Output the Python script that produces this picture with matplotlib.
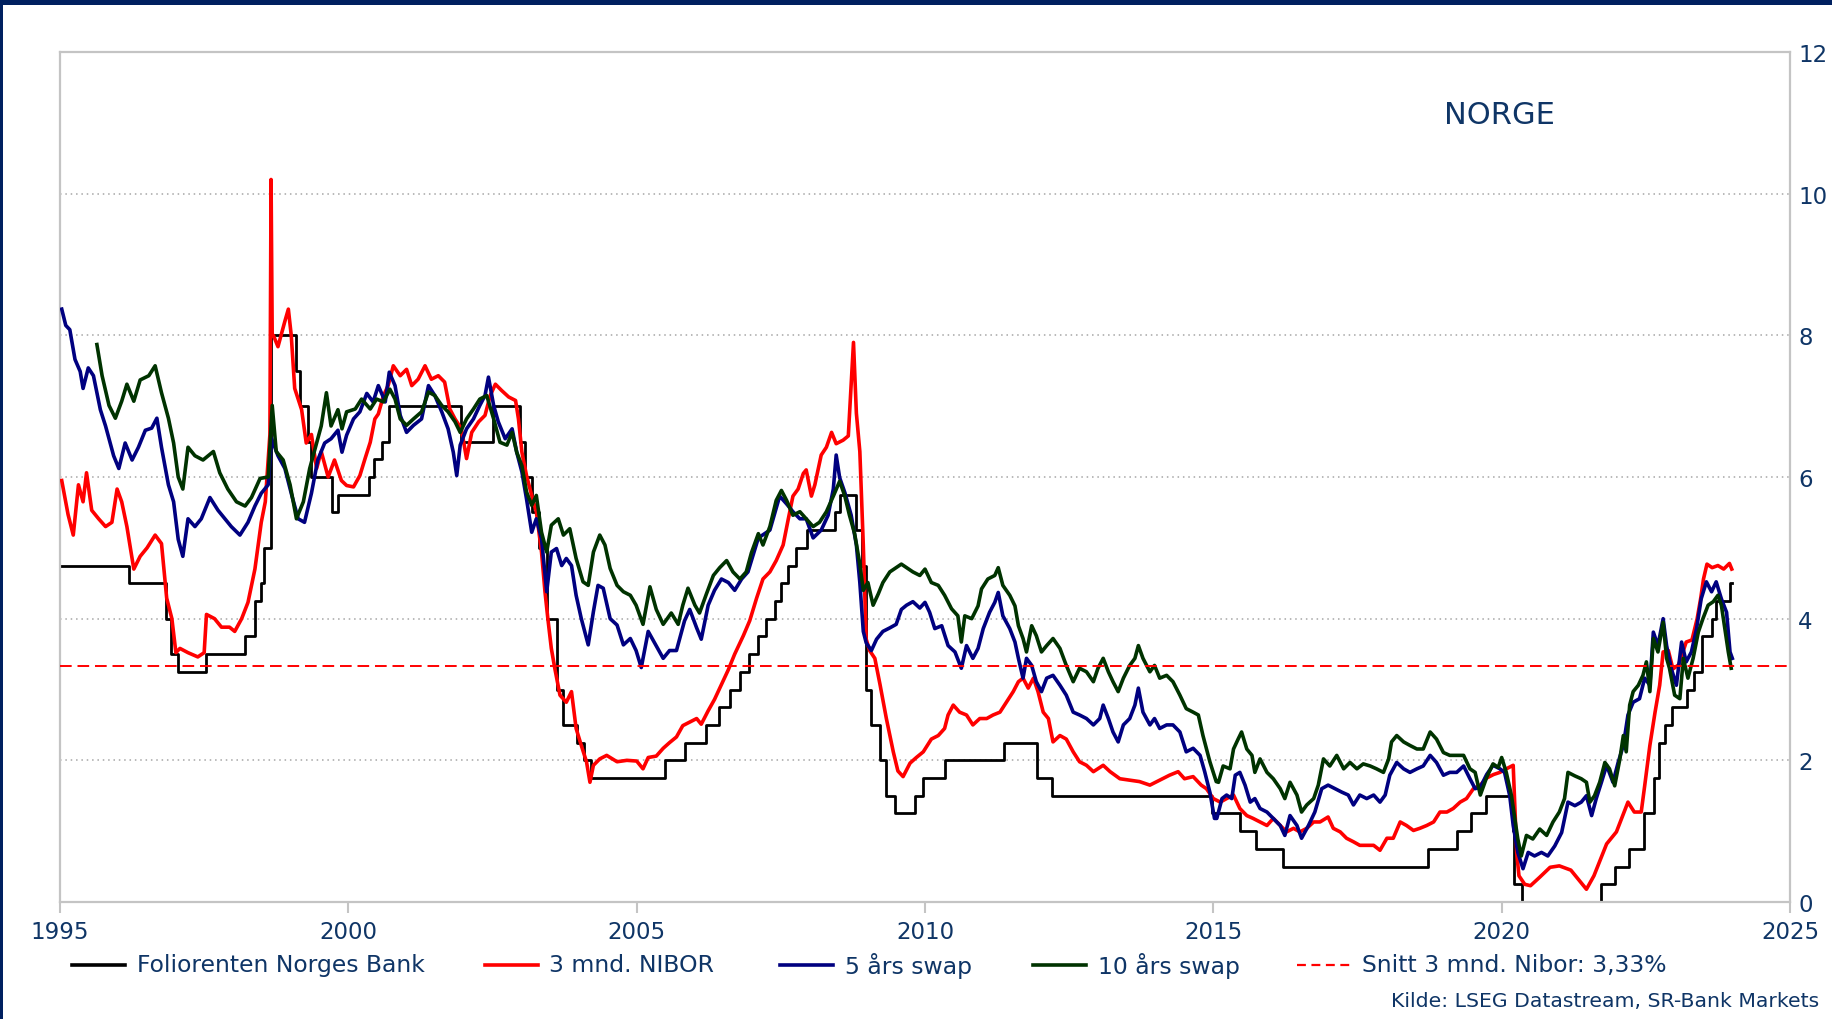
import matplotlib.pyplot as plt
from matplotlib.lines import Line2D
from matplotlib.patches import Rectangle

# Foliorenten Norges Bank (step changes)
policy_t = [1995.00, 1996.20, 1996.83, 1996.93, 1997.04, 1997.54, 1998.21, 1998.38, 1998.48, 1998.54,
            1998.66, 1999.09, 1999.16, 1999.30, 1999.36, 1999.72, 1999.82, 2000.35, 2000.45, 2000.58,
            2000.70, 2001.95, 2002.51, 2002.97, 2003.06, 2003.19, 2003.30, 2003.45, 2003.62, 2003.72,
            2003.96, 2004.08, 2004.20, 2005.49, 2005.84, 2006.20, 2006.42, 2006.62, 2006.79, 2006.94,
            2007.11, 2007.25, 2007.40, 2007.51, 2007.63, 2007.76, 2007.95, 2008.44, 2008.53, 2008.81,
            2008.90, 2008.98, 2009.07, 2009.22, 2009.33, 2009.48, 2009.83, 2009.96, 2010.35, 2011.37,
            2011.95, 2012.21, 2014.97, 2015.46, 2015.74, 2016.20, 2018.73, 2019.23, 2019.47, 2019.72,
            2020.20, 2020.21, 2020.35, 2021.72, 2021.96, 2022.21, 2022.47, 2022.64, 2022.73, 2022.84,
            2022.96, 2023.22, 2023.34, 2023.47, 2023.64, 2023.72, 2023.96, 2023.99]
policy_v = [4.75, 4.50, 4.00, 3.50, 3.25, 3.50, 3.75, 4.25, 4.50, 5.00,
            8.00, 7.50, 7.00, 6.50, 6.00, 5.50, 5.75, 6.00, 6.25, 6.50,
            7.00, 6.50, 7.00, 6.50, 6.00, 5.50, 5.00, 4.00, 3.00, 2.50,
            2.25, 2.00, 1.75, 2.00, 2.25, 2.50, 2.75, 3.00, 3.25, 3.50,
            3.75, 4.00, 4.25, 4.50, 4.75, 5.00, 5.25, 5.50, 5.75, 5.25,
            4.75, 3.00, 2.50, 2.00, 1.50, 1.25, 1.50, 1.75, 2.00, 2.25,
            1.75, 1.50, 1.25, 1.00, 0.75, 0.50, 0.75, 1.00, 1.25, 1.50,
            1.00, 0.25, 0.00, 0.25, 0.50, 0.75, 1.25, 1.75, 2.25, 2.50,
            2.75, 3.00, 3.25, 3.75, 4.00, 4.25, 4.50, 4.50]

# 3 mnd. NIBOR
nibor_t = [1995.03, 1995.14, 1995.23, 1995.32, 1995.40, 1995.46, 1995.55, 1995.67, 1995.79, 1995.90,
           1995.99, 1996.07, 1996.16, 1996.28, 1996.39, 1996.51, 1996.65, 1996.76, 1996.85, 1996.94,
           1997.01, 1997.08, 1997.22, 1997.39, 1997.50, 1997.54, 1997.68, 1997.80, 1997.94, 1998.03,
           1998.15, 1998.26, 1998.38, 1998.49, 1998.56, 1998.64, 1998.66, 1998.68, 1998.70, 1998.78,
           1998.90, 1998.96, 1999.01, 1999.07, 1999.19, 1999.27, 1999.36, 1999.45, 1999.53, 1999.65,
           1999.76, 1999.88, 1999.97, 2000.09, 2000.20, 2000.29, 2000.38, 2000.46, 2000.52, 2000.61,
           2000.69, 2000.78, 2000.90, 2001.01, 2001.10, 2001.21, 2001.33, 2001.44, 2001.56, 2001.67,
           2001.76, 2001.85, 2001.96, 2002.05, 2002.14, 2002.26, 2002.37, 2002.46, 2002.55, 2002.66,
           2002.78, 2002.90, 2002.95, 2003.01, 2003.09, 2003.18, 2003.26, 2003.35, 2003.41, 2003.46,
           2003.52, 2003.58, 2003.67, 2003.78, 2003.87, 2003.95, 2004.04, 2004.13, 2004.19, 2004.25,
           2004.36, 2004.48, 2004.66, 2004.83, 2005.00, 2005.11, 2005.20, 2005.34, 2005.46, 2005.57,
           2005.69, 2005.80, 2005.92, 2006.04, 2006.12, 2006.24, 2006.35, 2006.47, 2006.59, 2006.70,
           2006.85, 2006.96, 2007.08, 2007.19, 2007.31, 2007.42, 2007.54, 2007.63, 2007.71, 2007.80,
           2007.89, 2007.94, 2008.03, 2008.09, 2008.20, 2008.29, 2008.38, 2008.46, 2008.58, 2008.67,
           2008.71, 2008.76, 2008.81, 2008.87, 2008.93, 2008.98, 2009.04, 2009.13, 2009.22, 2009.33,
           2009.45, 2009.53, 2009.62, 2009.74, 2009.85, 2009.97, 2010.11, 2010.23, 2010.34, 2010.40,
           2010.49, 2010.60, 2010.72, 2010.83, 2010.95, 2011.07, 2011.18, 2011.30, 2011.41, 2011.53,
           2011.62, 2011.70, 2011.79, 2011.88, 2011.96, 2012.05, 2012.14, 2012.22, 2012.34, 2012.45,
           2012.57, 2012.68, 2012.80, 2012.92, 2013.09, 2013.21, 2013.38, 2013.55, 2013.72, 2013.90,
           2014.07, 2014.24, 2014.39, 2014.50, 2014.65, 2014.79, 2014.88, 2015.00, 2015.12, 2015.23,
           2015.35, 2015.46, 2015.58, 2015.69, 2015.81, 2015.93, 2016.04, 2016.16, 2016.27, 2016.39,
           2016.50, 2016.62, 2016.74, 2016.85, 2016.99, 2017.08, 2017.20, 2017.31, 2017.43, 2017.54,
           2017.66, 2017.78, 2017.89, 2018.01, 2018.12, 2018.24, 2018.35, 2018.47, 2018.58, 2018.70,
           2018.82, 2018.93, 2019.05, 2019.16, 2019.28, 2019.39, 2019.51, 2019.63, 2019.74, 2019.86,
           2019.97, 2020.08, 2020.20, 2020.26, 2020.30, 2020.40, 2020.50, 2020.66, 2020.84, 2021.00,
           2021.20, 2021.35, 2021.47, 2021.60, 2021.82, 2021.99, 2022.19, 2022.30, 2022.42, 2022.48,
           2022.57, 2022.66, 2022.74, 2022.80, 2022.89, 2022.97, 2023.07, 2023.20, 2023.30, 2023.39,
           2023.45, 2023.50, 2023.56, 2023.65, 2023.75, 2023.85, 2023.95, 2023.99]
nibor_v = [5.95, 5.47, 5.18, 5.89, 5.65, 6.06, 5.53, 5.41, 5.30, 5.36,
           5.83, 5.65, 5.30, 4.70, 4.88, 5.00, 5.18, 5.06, 4.29, 4.00,
           3.52, 3.58, 3.52, 3.46, 3.52, 4.06, 4.00, 3.88, 3.88, 3.82,
           4.00, 4.23, 4.70, 5.36, 5.65, 6.60, 10.2, 8.00, 8.00, 7.84,
           8.20, 8.37, 8.00, 7.25, 6.95, 6.48, 6.60, 6.12, 6.36, 6.00,
           6.24, 5.95, 5.88, 5.86, 6.02, 6.26, 6.49, 6.82, 6.89, 7.15,
           7.29, 7.57, 7.43, 7.52, 7.29, 7.38, 7.57, 7.38, 7.43, 7.34,
           6.96, 6.82, 6.68, 6.26, 6.63, 6.78, 6.87, 7.15, 7.31, 7.22,
           7.13, 7.08, 6.82, 6.35, 6.02, 5.74, 5.51, 4.94, 4.38, 4.00,
           3.58, 3.30, 2.92, 2.82, 2.97, 2.45, 2.21, 1.98, 1.69, 1.93,
           2.02, 2.07, 1.98, 2.00, 1.99, 1.88, 2.04, 2.06, 2.17, 2.25,
           2.33, 2.49, 2.54, 2.59, 2.51, 2.70, 2.86, 3.07, 3.28, 3.50,
           3.76, 3.97, 4.29, 4.56, 4.66, 4.82, 5.04, 5.41, 5.73, 5.83,
           6.05, 6.10, 5.73, 5.89, 6.31, 6.42, 6.63, 6.47, 6.52, 6.58,
           7.16, 7.90, 6.90, 6.36, 5.04, 3.71, 3.55, 3.44, 3.07, 2.59,
           2.12, 1.85, 1.77, 1.96, 2.04, 2.12, 2.30, 2.35, 2.45, 2.64,
           2.78, 2.68, 2.64, 2.50, 2.59, 2.59, 2.64, 2.68, 2.82, 2.97,
           3.11, 3.16, 3.02, 3.16, 2.97, 2.68, 2.59, 2.26, 2.35, 2.30,
           2.12, 1.98, 1.93, 1.84, 1.93, 1.84, 1.74, 1.72, 1.70, 1.65,
           1.72, 1.79, 1.84, 1.74, 1.77, 1.65, 1.60, 1.46, 1.41, 1.46,
           1.51, 1.32, 1.22, 1.18, 1.13, 1.08, 1.18, 1.08, 0.99, 1.04,
           0.99, 1.04, 1.13, 1.13, 1.20, 1.04, 0.99, 0.90, 0.85, 0.80,
           0.80, 0.80, 0.73, 0.90, 0.90, 1.13, 1.08, 1.01, 1.04, 1.08,
           1.13, 1.27, 1.27, 1.32, 1.41, 1.46, 1.60, 1.65, 1.75, 1.80,
           1.83, 1.88, 1.93, 0.70, 0.37, 0.25, 0.23, 0.35, 0.49, 0.51,
           0.45, 0.30, 0.18, 0.37, 0.82, 0.99, 1.41, 1.27, 1.27, 1.64,
           2.21, 2.68, 3.06, 3.53, 3.55, 3.29, 3.35, 3.67, 3.70, 4.00,
           4.28, 4.56, 4.77, 4.72, 4.75, 4.70, 4.78, 4.70]

# 5 års swap
swap5_t = [1995.03, 1995.10, 1995.17, 1995.26, 1995.35, 1995.40, 1995.49, 1995.58, 1995.70, 1995.79,
           1995.93, 1996.02, 1996.13, 1996.25, 1996.36, 1996.48, 1996.59, 1996.68, 1996.76, 1996.88,
           1996.97, 1997.05, 1997.13, 1997.22, 1997.34, 1997.45, 1997.60, 1997.74, 1997.86, 1997.97,
           1998.12, 1998.26, 1998.38, 1998.49, 1998.61, 1998.67, 1998.78, 1998.90, 1999.01, 1999.13,
           1999.24, 1999.36, 1999.47, 1999.59, 1999.70, 1999.82, 1999.89, 1999.97, 2000.09, 2000.20,
           2000.32, 2000.43, 2000.52, 2000.64, 2000.71, 2000.81, 2000.90, 2001.01, 2001.13, 2001.27,
           2001.39, 2001.50, 2001.62, 2001.73, 2001.82, 2001.88, 2001.94, 2002.05, 2002.17, 2002.28,
           2002.37, 2002.43, 2002.52, 2002.60, 2002.72, 2002.84, 2002.92, 2003.01, 2003.09, 2003.18,
           2003.26, 2003.35, 2003.44, 2003.52, 2003.61, 2003.70, 2003.78, 2003.87, 2003.95, 2004.04,
           2004.16, 2004.25, 2004.33, 2004.42, 2004.54, 2004.66, 2004.77, 2004.89, 2004.99, 2005.08,
           2005.20, 2005.31, 2005.46, 2005.57, 2005.69, 2005.83, 2005.92, 2006.04, 2006.12, 2006.24,
           2006.35, 2006.47, 2006.59, 2006.70, 2006.82, 2006.93, 2007.11, 2007.31, 2007.48, 2007.60,
           2007.71, 2007.83, 2007.94, 2008.06, 2008.20, 2008.32, 2008.41, 2008.46, 2008.52, 2008.61,
           2008.72, 2008.81, 2008.87, 2008.93, 2008.98, 2009.07, 2009.16, 2009.27, 2009.39, 2009.50,
           2009.59, 2009.68, 2009.79, 2009.91, 2010.00, 2010.08, 2010.17, 2010.29, 2010.40, 2010.52,
           2010.63, 2010.72, 2010.83, 2010.92, 2011.01, 2011.12, 2011.21, 2011.27, 2011.35, 2011.47,
           2011.56, 2011.62, 2011.70, 2011.76, 2011.85, 2011.93, 2012.02, 2012.11, 2012.22, 2012.34,
           2012.45, 2012.57, 2012.68, 2012.80, 2012.92, 2013.03, 2013.09, 2013.18, 2013.26, 2013.35,
           2013.44, 2013.55, 2013.64, 2013.70, 2013.78, 2013.90, 2013.98, 2014.07, 2014.19, 2014.30,
           2014.42, 2014.53, 2014.65, 2014.77, 2014.85, 2014.94, 2015.02, 2015.06, 2015.15, 2015.23,
           2015.32, 2015.38, 2015.46, 2015.55, 2015.64, 2015.72, 2015.81, 2015.93, 2016.04, 2016.16,
           2016.24, 2016.33, 2016.45, 2016.53, 2016.65, 2016.76, 2016.88, 2016.99, 2017.11, 2017.23,
           2017.34, 2017.43, 2017.54, 2017.66, 2017.78, 2017.89, 2017.98, 2018.06, 2018.18, 2018.30,
           2018.41, 2018.53, 2018.64, 2018.76, 2018.87, 2018.99, 2019.10, 2019.22, 2019.34, 2019.45,
           2019.54, 2019.63, 2019.74, 2019.85, 2019.97, 2020.05, 2020.14, 2020.20, 2020.28, 2020.37,
           2020.46, 2020.57, 2020.69, 2020.80, 2020.92, 2021.04, 2021.15, 2021.27, 2021.38, 2021.47,
           2021.56, 2021.64, 2021.73, 2021.82, 2021.93, 2022.02, 2022.11, 2022.19, 2022.28, 2022.39,
           2022.48, 2022.57, 2022.63, 2022.71, 2022.80, 2022.86, 2022.94, 2023.03, 2023.12, 2023.20,
           2023.29, 2023.38, 2023.46, 2023.55, 2023.64, 2023.72, 2023.81, 2023.90, 2023.96, 2024.00]
swap5_v = [8.37, 8.14, 8.08, 7.66, 7.49, 7.25, 7.54, 7.43, 6.95, 6.72,
           6.30, 6.12, 6.48, 6.24, 6.42, 6.66, 6.69, 6.83, 6.42, 5.89,
           5.65, 5.12, 4.88, 5.41, 5.30, 5.41, 5.71, 5.53, 5.41, 5.30,
           5.18, 5.36, 5.59, 5.77, 5.89, 6.54, 6.30, 6.12, 5.77, 5.41,
           5.36, 5.77, 6.24, 6.48, 6.54, 6.66, 6.35, 6.59, 6.82, 6.92,
           7.18, 7.06, 7.29, 7.06, 7.48, 7.29, 6.87, 6.63, 6.73, 6.82,
           7.29, 7.15, 6.92, 6.68, 6.35, 6.02, 6.45, 6.68, 6.82, 7.01,
           7.15, 7.41, 7.01, 6.78, 6.54, 6.68, 6.35, 6.07, 5.69, 5.22,
           5.41, 5.13, 4.38, 4.94, 4.99, 4.75, 4.85, 4.75, 4.33, 4.00,
           3.63, 4.10, 4.47, 4.43, 4.00, 3.91, 3.63, 3.72, 3.55, 3.31,
           3.82, 3.66, 3.44, 3.55, 3.55, 3.97, 4.13, 3.87, 3.71, 4.19,
           4.40, 4.56, 4.51, 4.40, 4.56, 4.66, 5.14, 5.25, 5.73, 5.62,
           5.51, 5.41, 5.41, 5.14, 5.25, 5.46, 5.83, 6.31, 5.99, 5.78,
           5.46, 5.04, 4.51, 3.82, 3.66, 3.55, 3.71, 3.82, 3.87, 3.92,
           4.13, 4.19, 4.24, 4.15, 4.23, 4.09, 3.86, 3.90, 3.62, 3.53,
           3.30, 3.62, 3.44, 3.58, 3.86, 4.09, 4.23, 4.37, 4.04, 3.86,
           3.67, 3.44, 3.16, 3.44, 3.34, 3.11, 2.97, 3.16, 3.20, 3.06,
           2.92, 2.68, 2.64, 2.59, 2.50, 2.59, 2.78, 2.59, 2.40, 2.26,
           2.50, 2.59, 2.78, 3.02, 2.68, 2.50, 2.59, 2.45, 2.50, 2.50,
           2.40, 2.12, 2.17, 2.07, 1.84, 1.55, 1.18, 1.18, 1.46, 1.51,
           1.46, 1.79, 1.83, 1.65, 1.41, 1.46, 1.32, 1.27, 1.18, 1.08,
           0.94, 1.22, 1.08, 0.90, 1.08, 1.27, 1.60, 1.65, 1.60, 1.55,
           1.51, 1.37, 1.51, 1.46, 1.51, 1.41, 1.51, 1.79, 1.97, 1.88,
           1.83, 1.88, 1.92, 2.07, 1.97, 1.79, 1.83, 1.83, 1.92, 1.74,
           1.60, 1.62, 1.80, 1.93, 1.88, 1.83, 1.50, 1.08, 0.70, 0.47,
           0.70, 0.65, 0.70, 0.65, 0.79, 0.98, 1.41, 1.36, 1.41, 1.50,
           1.22, 1.46, 1.69, 1.93, 1.69, 1.97, 2.21, 2.64, 2.82, 2.87,
           3.16, 3.06, 3.81, 3.62, 4.00, 3.62, 3.30, 3.06, 3.67, 3.39,
           3.53, 3.86, 4.28, 4.52, 4.38, 4.52, 4.28, 4.09, 3.53, 3.44]

# 10 års swap
swap10_t = [1995.64, 1995.73, 1995.85, 1995.96, 1996.07, 1996.16, 1996.28, 1996.39, 1996.54, 1996.65,
            1996.76, 1996.88, 1996.97, 1997.05, 1997.13, 1997.22, 1997.34, 1997.48, 1997.66, 1997.77,
            1997.91, 1998.06, 1998.21, 1998.32, 1998.47, 1998.61, 1998.68, 1998.75, 1998.87, 1998.99,
            1999.10, 1999.22, 1999.33, 1999.45, 1999.53, 1999.62, 1999.70, 1999.82, 1999.89, 1999.97,
            2000.12, 2000.23, 2000.38, 2000.49, 2000.61, 2000.72, 2000.81, 2000.90, 2001.01, 2001.13,
            2001.27, 2001.39, 2001.50, 2001.62, 2001.73, 2001.85, 2001.94, 2002.05, 2002.17, 2002.28,
            2002.40, 2002.52, 2002.63, 2002.75, 2002.84, 2002.92, 2003.01, 2003.09, 2003.18, 2003.26,
            2003.35, 2003.44, 2003.52, 2003.64, 2003.73, 2003.84, 2003.95, 2004.07, 2004.16, 2004.25,
            2004.36, 2004.45, 2004.54, 2004.66, 2004.77, 2004.89, 2004.99, 2005.11, 2005.23, 2005.34,
            2005.46, 2005.60, 2005.72, 2005.80, 2005.89, 2006.01, 2006.09, 2006.21, 2006.33, 2006.44,
            2006.56, 2006.67, 2006.79, 2006.90, 2006.99, 2007.11, 2007.19, 2007.31, 2007.42, 2007.51,
            2007.60, 2007.71, 2007.83, 2007.94, 2008.06, 2008.17, 2008.29, 2008.41, 2008.52, 2008.61,
            2008.69, 2008.78, 2008.87, 2008.93, 2009.01, 2009.10, 2009.19, 2009.27, 2009.39, 2009.50,
            2009.59, 2009.68, 2009.79, 2009.91, 2010.00, 2010.11, 2010.23, 2010.34, 2010.46, 2010.57,
            2010.63, 2010.69, 2010.81, 2010.92, 2010.98, 2011.09, 2011.21, 2011.27, 2011.35, 2011.47,
            2011.56, 2011.62, 2011.70, 2011.76, 2011.85, 2011.93, 2012.02, 2012.11, 2012.22, 2012.34,
            2012.45, 2012.57, 2012.68, 2012.80, 2012.92, 2013.00, 2013.09, 2013.18, 2013.26, 2013.35,
            2013.44, 2013.55, 2013.64, 2013.70, 2013.78, 2013.90, 2013.98, 2014.07, 2014.19, 2014.30,
            2014.42, 2014.53, 2014.65, 2014.74, 2014.82, 2014.94, 2015.05, 2015.09, 2015.17, 2015.29,
            2015.35, 2015.43, 2015.49, 2015.58, 2015.67, 2015.72, 2015.81, 2015.93, 2016.04, 2016.16,
            2016.24, 2016.33, 2016.45, 2016.53, 2016.62, 2016.74, 2016.82, 2016.91, 2017.02, 2017.14,
            2017.26, 2017.37, 2017.49, 2017.60, 2017.72, 2017.83, 2017.95, 2018.04, 2018.09, 2018.18,
            2018.30, 2018.41, 2018.53, 2018.64, 2018.76, 2018.87, 2018.99, 2019.10, 2019.22, 2019.34,
            2019.45, 2019.54, 2019.63, 2019.74, 2019.85, 2019.94, 2020.00, 2020.08, 2020.17, 2020.23,
            2020.28, 2020.34, 2020.43, 2020.54, 2020.66, 2020.78, 2020.89, 2021.00, 2021.09, 2021.15,
            2021.27, 2021.38, 2021.47, 2021.53, 2021.61, 2021.70, 2021.79, 2021.87, 2021.96, 2022.05,
            2022.11, 2022.16, 2022.22, 2022.28, 2022.37, 2022.45, 2022.51, 2022.57, 2022.63, 2022.71,
            2022.80, 2022.86, 2022.91, 2023.00, 2023.09, 2023.15, 2023.23, 2023.32, 2023.41, 2023.49,
            2023.58, 2023.67, 2023.75, 2023.81, 2023.87, 2023.93, 2023.98]
swap10_v = [7.87, 7.43, 7.01, 6.83, 7.07, 7.31, 7.07, 7.37, 7.43, 7.57,
            7.19, 6.83, 6.48, 6.00, 5.83, 6.42, 6.30, 6.24, 6.36, 6.06,
            5.83, 5.65, 5.59, 5.71, 5.98, 6.00, 7.01, 6.36, 6.24, 5.89,
            5.41, 5.65, 6.12, 6.48, 6.72, 7.19, 6.72, 6.95, 6.68, 6.92,
            6.96, 7.10, 6.96, 7.10, 7.06, 7.24, 7.10, 6.82, 6.73, 6.82,
            6.92, 7.20, 7.15, 7.01, 6.92, 6.78, 6.63, 6.82, 6.96, 7.10,
            7.15, 6.82, 6.49, 6.45, 6.63, 6.35, 6.16, 5.79, 5.60, 5.74,
            5.22, 4.94, 5.32, 5.41, 5.18, 5.27, 4.85, 4.52, 4.47, 4.94,
            5.18, 5.04, 4.71, 4.47, 4.38, 4.33, 4.19, 3.92, 4.45, 4.13,
            3.92, 4.08, 3.92, 4.19, 4.43, 4.19, 4.08, 4.35, 4.61, 4.72,
            4.82, 4.66, 4.56, 4.66, 4.93, 5.20, 5.04, 5.30, 5.67, 5.81,
            5.67, 5.46, 5.51, 5.41, 5.30, 5.36, 5.51, 5.73, 5.94, 5.73,
            5.46, 5.20, 4.77, 4.40, 4.51, 4.19, 4.35, 4.51, 4.66, 4.72,
            4.77, 4.72, 4.66, 4.61, 4.70, 4.51, 4.47, 4.33, 4.14, 4.04,
            3.67, 4.04, 4.00, 4.18, 4.42, 4.56, 4.61, 4.72, 4.47, 4.33,
            4.18, 3.90, 3.72, 3.53, 3.90, 3.76, 3.53, 3.62, 3.72, 3.58,
            3.34, 3.11, 3.30, 3.25, 3.11, 3.30, 3.44, 3.25, 3.11, 2.97,
            3.16, 3.34, 3.44, 3.62, 3.44, 3.25, 3.34, 3.16, 3.20, 3.11,
            2.92, 2.73, 2.68, 2.64, 2.35, 1.98, 1.70, 1.69, 1.92, 1.88,
            2.16, 2.30, 2.40, 2.16, 2.07, 1.83, 2.02, 1.83, 1.74, 1.60,
            1.46, 1.69, 1.51, 1.27, 1.37, 1.46, 1.65, 2.02, 1.92, 2.07,
            1.88, 1.97, 1.88, 1.95, 1.92, 1.88, 1.83, 2.02, 2.26, 2.35,
            2.26, 2.21, 2.16, 2.16, 2.40, 2.30, 2.11, 2.07, 2.07, 2.07,
            1.88, 1.83, 1.51, 1.76, 1.95, 1.90, 2.04, 1.83, 1.50, 1.17,
            0.89, 0.65, 0.94, 0.89, 1.03, 0.94, 1.13, 1.27, 1.46, 1.83,
            1.78, 1.74, 1.69, 1.41, 1.50, 1.69, 1.97, 1.88, 1.64, 2.02,
            2.35, 2.12, 2.78, 2.97, 3.06, 3.20, 3.39, 2.97, 3.72, 3.53,
            3.95, 3.44, 3.30, 2.92, 2.87, 3.44, 3.16, 3.44, 3.81, 4.00,
            4.19, 4.24, 4.33, 4.19, 3.86, 3.53, 3.30]

nibor_avg = 3.33
x_ticks = [1995, 2000, 2005, 2010, 2015, 2020, 2025]
y_ticks = [0, 2, 4, 6, 8, 10, 12]
labels = ["Foliorenten Norges Bank", "3 mnd. NIBOR", "5 års swap", "10 års swap",
          "Snitt 3 mnd. Nibor: 3,33%"]

navy = "#0F3566"
frame_navy = "#002060"
c_red = "#FF0000"
c_blue = "#000080"
c_green = "#003300"

W, H = 1832, 1020
fig = plt.figure(figsize=(W / 100, H / 100), dpi=100)
ax = fig.add_axes([60 / W, 1 - 903 / H, 1730 / W, 850 / H])

ax.step(policy_t, policy_v, where="post", color="black", lw=2.0, zorder=2)
ax.plot(nibor_t, nibor_v, color=c_red, lw=2.6, zorder=3)
ax.plot(swap5_t, swap5_v, color=c_blue, lw=2.6, zorder=3)
ax.plot(swap10_t, swap10_v, color=c_green, lw=2.6, zorder=4)
ax.axhline(nibor_avg, color=c_red, lw=1.4, ls=(0, (6, 3)), zorder=5)

ax.set_xlim(1995, 2025)
ax.set_ylim(0, 12)
ax.set_xticks(x_ticks)
ax.set_yticks(y_ticks)
ax.yaxis.tick_right()
ax.grid(axis="y", color="#A6A6A6", lw=1.1, ls=(0, (1, 2.5)))
ax.set_axisbelow(True)
for s in ax.spines.values():
    s.set_color("#C4C4C4")
    s.set_linewidth(1.6)
ax.tick_params(axis="x", length=8, width=1.5, color="#C4C4C4", pad=5,
               labelsize=16.5, labelcolor=navy)
ax.tick_params(axis="y", length=0, pad=6, labelsize=16.5, labelcolor=navy)

fig.text(1499 / W, 1 - 115 / H, "NORGE", ha="center", va="center",
         fontsize=22, color=navy)

# legend drawn by hand
leg_y = 1 - 966 / H
leg_items = [(72, 137, "black", "-"), (485, 549, c_red, "-"), (780, 845, c_blue, "-"),
             (1033, 1098, c_green, "-"), (1297, 1362, c_red, "--")]
for (x0, xt, col, st), lab in zip(leg_items, labels):
    if st == "-":
        fig.add_artist(Line2D([x0 / W, (x0 + 53) / W], [leg_y, leg_y], color=col, lw=2.6))
    else:
        fig.add_artist(Line2D([x0 / W, (x0 + 53) / W], [leg_y, leg_y], color=col, lw=1.6,
                              ls=(0, (4, 2.5))))
    fig.text(xt / W, leg_y, lab, ha="left", va="center", fontsize=16.9, color=navy)

fig.text(1819 / W, 1 - 1002 / H, "Kilde: LSEG Datastream, SR-Bank Markets",
         ha="right", va="center", fontsize=14.7, color=navy)

# dark frame at top and left edge
fig.add_artist(Rectangle((0, 1 - 6 / H), 1, 6 / H, transform=fig.transFigure,
                         color=frame_navy, lw=0))
fig.add_artist(Rectangle((0, 0), 3 / W, 1, transform=fig.transFigure,
                         color=frame_navy, lw=0))

fig.savefig("out.png", dpi=100)
